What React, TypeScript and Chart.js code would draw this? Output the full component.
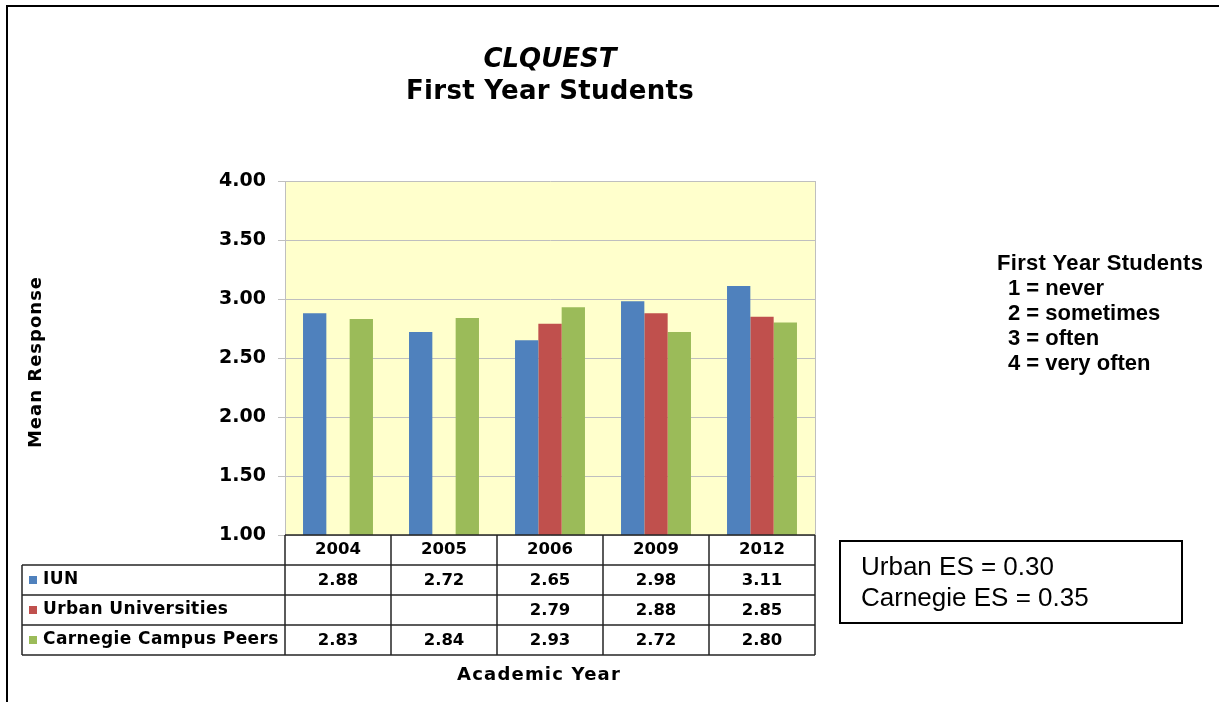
import React, { useEffect, useRef } from "react";
import { Chart, registerables } from "chart.js";

Chart.register(...registerables);

const categories = ["2004", "2005", "2006", "2009", "2012"];
const seriesNames = ["IUN", "Urban Universities", "Carnegie Campus Peers"];
const iunValues = [2.88, 2.72, 2.65, 2.98, 3.11];
const urbanValues = [null, null, 2.79, 2.88, 2.85];
const carnegieValues = [2.83, 2.84, 2.93, 2.72, 2.8];
const seriesColors = ["#4F81BD", "#C0504D", "#9BBB59"];
const yMin = 1;
const yMax = 4;
const yStep = 0.5;
const titleLines = ["CLQUEST", "First Year Students"];
const xTitle = "Academic Year";
const yTitle = "Mean Response";
const scaleLegend = ["First Year Students", "1 = never", "2 = sometimes", "3 = often", "4 = very often"];
const esLines = ["Urban ES = 0.30", "Carnegie ES = 0.35"];

const W = 1219;
const H = 702;

const overlayPlugin = {
  id: "overlay",
  beforeDraw(chart: any) {
    const { ctx, chartArea } = chart;
    ctx.save();
    ctx.fillStyle = "#FFFFFF";
    ctx.fillRect(0, 0, W, H);
    ctx.fillStyle = "#FFFFCC";
    ctx.fillRect(chartArea.left, chartArea.top, chartArea.right - chartArea.left, chartArea.bottom - chartArea.top);
    ctx.restore();
  },
  afterDraw(chart: any) {
    const { ctx, chartArea } = chart;
    const xs = chart.scales.x;
    const left = chartArea.left;
    const right = chartArea.right;
    const bottom = chartArea.bottom;
    const n = categories.length;
    const cw = (right - left) / n;
    const rowH = 30;
    const tableLeft = 22;
    ctx.save();

    // plot right border
    ctx.strokeStyle = "#BFBFBF";
    ctx.lineWidth = 1;
    ctx.beginPath();
    ctx.moveTo(right + 0.5, chartArea.top);
    ctx.lineTo(right + 0.5, bottom);
    ctx.stroke();

    // table grid
    ctx.strokeStyle = "#262626";
    ctx.lineWidth = 1.5;
    ctx.beginPath();
    ctx.moveTo(left, bottom);
    ctx.lineTo(right, bottom);
    for (let r = 1; r <= 4; r++) {
      ctx.moveTo(tableLeft, bottom + r * rowH);
      ctx.lineTo(right, bottom + r * rowH);
    }
    for (let c = 0; c <= n; c++) {
      const x = left + c * cw;
      ctx.moveTo(x, bottom);
      ctx.lineTo(x, bottom + 4 * rowH);
    }
    ctx.moveTo(tableLeft, bottom + rowH);
    ctx.lineTo(tableLeft, bottom + 4 * rowH);
    ctx.stroke();

    // row labels and values
    const allValues = [iunValues, urbanValues, carnegieValues];
    ctx.textBaseline = "middle";
    ctx.fillStyle = "#000";
    for (let s = 0; s < seriesNames.length; s++) {
      const cy = bottom + rowH * (s + 1) + rowH / 2;
      ctx.fillStyle = chart.data.datasets[s].backgroundColor;
      ctx.fillRect(29, cy - 4, 8, 8);
      ctx.fillStyle = "#000";
      ctx.font = "bold 17px 'DejaVu Sans'";
      (ctx as any).letterSpacing = "0.4px";
      ctx.textAlign = "left";
      ctx.fillText(seriesNames[s], 43, cy);
      (ctx as any).letterSpacing = "0px";
      ctx.font = "bold 16.5px 'DejaVu Sans'";
      ctx.textAlign = "center";
      for (let i = 0; i < n; i++) {
        const v = allValues[s][i];
        if (v === null || v === undefined) continue;
        ctx.fillText(Number(v).toFixed(2), xs.getPixelForValue(i), cy + 1);
      }
    }

    // titles
    const cx = (left + right) / 2;
    ctx.textAlign = "center";
    ctx.font = "italic bold 26px 'DejaVu Sans'";
    ctx.fillText(titleLines[0], cx, 60);
    ctx.font = "bold 26px 'DejaVu Sans'";
    (ctx as any).letterSpacing = "0.3px";
    ctx.fillText(titleLines[1], cx, 92);
    (ctx as any).letterSpacing = "0px";

    // axis titles
    ctx.font = "bold 18px 'DejaVu Sans'";
    (ctx as any).letterSpacing = "1.2px";
    ctx.fillText(xTitle, 539, 675);
    (ctx as any).letterSpacing = "1px";
    ctx.save();
    ctx.translate(36, 362);
    ctx.rotate(-Math.PI / 2);
    ctx.fillText(yTitle, 0, 0);
    ctx.restore();
    (ctx as any).letterSpacing = "0px";

    // scale legend
    ctx.textAlign = "left";
    ctx.font = "bold 22px 'Liberation Sans'";
    (ctx as any).letterSpacing = "0.3px";
    ctx.fillText(scaleLegend[0], 997, 264);
    (ctx as any).letterSpacing = "0px";
    for (let i = 1; i < scaleLegend.length; i++) {
      ctx.fillText(scaleLegend[i], 1008, 264 + i * 25);
    }

    // ES box
    ctx.strokeStyle = "#000";
    ctx.lineWidth = 2;
    ctx.strokeRect(840, 541, 342, 82);
    ctx.font = "26px 'Liberation Sans'";
    ctx.fillText(esLines[0], 861, 568);
    ctx.fillText(esLines[1], 861, 599);

    // outer frame
    ctx.lineWidth = 2;
    ctx.beginPath();
    ctx.moveTo(7, 702);
    ctx.lineTo(7, 6);
    ctx.lineTo(1219, 6);
    ctx.stroke();

    ctx.restore();
  },
};

export default function App() {
  const ref = useRef<HTMLCanvasElement | null>(null);
  useEffect(() => {
    document.body.style.margin = "0";
    const canvas = ref.current!;
    const chart = new Chart(canvas, {
      type: "bar",
      data: {
        labels: categories,
        datasets: [
          { label: seriesNames[0], data: iunValues, backgroundColor: seriesColors[0] },
          { label: seriesNames[1], data: urbanValues as any, backgroundColor: seriesColors[1] },
          { label: seriesNames[2], data: carnegieValues, backgroundColor: seriesColors[2] },
        ],
      },
      options: {
        responsive: false,
        animation: false,
        devicePixelRatio: 1,
        layout: { padding: { left: 0, top: 181, right: W - 815, bottom: 0 } },
        datasets: { bar: { categoryPercentage: 0.66, barPercentage: 1 } },
        plugins: {
          legend: { display: false },
          tooltip: { enabled: false },
          title: { display: false },
        },
        scales: {
          x: {
            grid: { display: false, drawTicks: false },
            border: { display: false },
            ticks: {
              color: "#000",
              font: { family: "'DejaVu Sans'", size: 16.5, weight: "bold" },
              padding: 5,
              maxRotation: 0,
            },
            afterFit: (s: any) => {
              s.height = H - 535;
            },
          },
          y: {
            min: yMin,
            max: yMax,
            ticks: {
              stepSize: yStep,
              color: "#000",
              font: { family: "'DejaVu Sans'", size: 19, weight: "bold" },
              padding: 12,
              callback: (v: any) => Number(v).toFixed(2),
            },
            grid: { color: "#BFBFBF", tickLength: 7, tickColor: "#BFBFBF" },
            border: { display: true, color: "#BFBFBF" },
            afterFit: (s: any) => {
              s.width = 285;
            },
          },
        },
      },
      plugins: [overlayPlugin],
    });
    return () => chart.destroy();
  }, []);
  return <canvas ref={ref} width={W} height={H} style={{ display: "block", width: W, height: H }} />;
}
